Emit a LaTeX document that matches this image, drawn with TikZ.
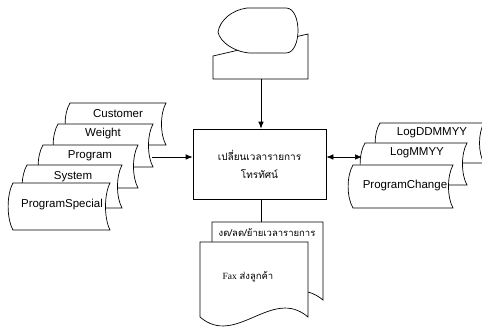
\documentclass[tikz,border=0pt]{standalone}
\usepackage{fontspec}
\setmainfont{Liberation Sans}
\newfontfamily\thaifont[Script=Thai]{Loma}
\newfontfamily\timesfont{Liberation Serif}
\usetikzlibrary{arrows.meta}
\tikzset{
  shapeline/.style={draw=black, fill=white, line width=0.7pt},
  lbl/.style={inner sep=0pt, font=\fontsize{11.5}{13}\selectfont},
  arr/.style={line width=0.7pt, -{Latex[length=7pt,width=5.5pt]}},
  arrtwo/.style={line width=0.7pt, {Latex[length=7pt,width=5.5pt]}-{Latex[length=7pt,width=5.5pt]}},
  plainline/.style={line width=0.7pt},
}
\newcommand\StoredPath[4]{%
  \path[shapeline] (#1,#2) -- ({#1+#3},#2)
    .. controls ({#1+#3-6},{#2+0.25*#4}) and ({#1+#3-6},{#2+0.75*#4}) .. ({#1+#3},{#2+#4})
    -- (#1,{#2+#4})
    .. controls ({#1-6.5},{#2+0.75*#4}) and ({#1-6.5},{#2+0.25*#4}) .. cycle;}
\begin{document}
\begin{tikzpicture}[x=1pt,y=-1pt]
\useasboundingbox[fill=white] (0,0) rectangle (482,327);

% top: manual input + display
\path[shapeline] (213,56) -- (308,34) -- (308,79) -- (213,79) -- cycle;
\path[shapeline] (247,8) -- (286,8) .. controls (302,8) and (302,53) .. (286,53)
  -- (250,53) .. controls (234,52) and (220,42) .. (218,32)
  .. controls (220,20) and (232,10) .. (247,8) -- cycle;
\coordinate (manualbottom) at (261,79);

% left stored data stack
\StoredPath{70}{103}{96}{42}
\StoredPath{58}{124}{95}{43}
\StoredPath{43}{145}{95}{43}
\StoredPath{27}{165}{95}{43}
\StoredPath{13}{183}{97}{47}
\node[lbl] (customer) at (118,114) {Customer};
\node[lbl] (weight) at (103,134) {Weight};
\node[lbl] (program) at (90,156) {Program};
\node[lbl] (system) at (73,177) {System};
\node[lbl] (programspecial) at (62,205) {ProgramSpecial};
\coordinate (stackout) at (152,157);

% right stored data stack
\StoredPath{380}{123}{104}{40}
\StoredPath{365}{143}{102}{42}
\StoredPath{353}{165}{100}{43}
\node[lbl] (logddmmyy) at (432,133) {LogDDMMYY};
\node[lbl] (logmmyy) at (417,153) {LogMMYY};
\node[lbl] (programchange) at (405,186) {ProgramChange};
\coordinate (login) at (362,157);

% process box
\node[draw, fill=white, line width=0.7pt, minimum width=133pt, minimum height=70pt,
  inner sep=0pt, align=center, font=\thaifont\fontsize{10}{18}\selectfont]
  (box) at (259.5,164) {เปลี่ยนเวลารายการ\\โทรทัศน์};

% documents
\path[shapeline] (212,222) -- (323,222) -- (323,300)
  .. controls (286,269) and (249,331) .. (212,300) -- cycle;
\path[shapeline] (200,242) -- (308,242) -- (308,317)
  .. controls (272,286) and (236,348) .. (200,317) -- cycle;
\node[inner sep=0pt, font=\thaifont\fontsize{9.5}{11}\selectfont] (reschedule) at (267,233) {งด/ลด/ย้ายเวลารายการ};
\node[inner sep=0pt, font=\fontsize{9.5}{11}\selectfont] (fax) at (248,277) {{\timesfont Fax} {\thaifont ส่งลูกค้า}};
\coordinate (backtop) at (261,222);

% connectors
\draw[arr] (manualbottom) -- (manualbottom |- box.north);
\draw[arr] (stackout) -- (stackout -| box.west);
\draw[arrtwo] (login -| box.east) -- (login);
\draw[plainline] (backtop |- box.south) -- (backtop);
\end{tikzpicture}
\end{document}
